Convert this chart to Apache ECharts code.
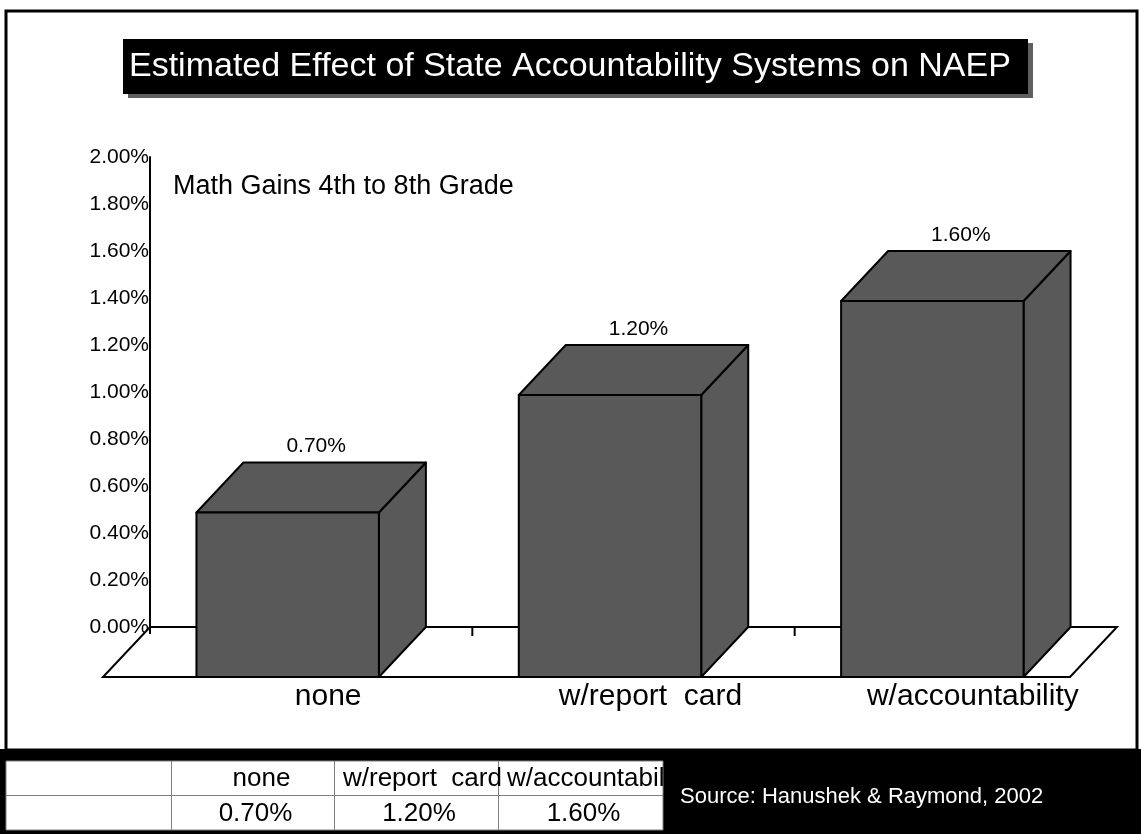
<!DOCTYPE html>
<html>
<head>
<meta charset="utf-8">
<script src="https://cdn.jsdelivr.net/npm/echarts@6/dist/echarts.min.js"></script>
<style>
  html, body { margin: 0; padding: 0; background: #fff; }
  #chart { width: 1141px; height: 834px; }
</style>
</head>
<body>
<div id="chart"></div>
<script>
// ---- data ----
const categories = ['none', 'w/report  card', 'w/accountability'];
const values = [0.70, 1.20, 1.60];           // percent
const yMin = 0, yMax = 2, yStep = 0.2;        // percent axis
const titleText = 'Estimated Effect of State Accountability Systems on NAEP';
const subtitleText = 'Math Gains 4th to 8th Grade';
const sourceText = 'Source: Hanushek & Raymond, 2002';

const fmt = v => v.toFixed(2) + '%';
const FONT = '"Liberation Sans", Arial, sans-serif';
const DX = 47, DY = 50;   // 3D depth offset (px)
const BAR_FILL = '#595959';

const chart = echarts.init(document.getElementById('chart'), null, { renderer: 'canvas' });

// table geometry
const tblX = [6, 171, 334, 498, 663];
const tblY = [761, 795, 830];
const tableGraphics = [];
tableGraphics.push({ type: 'rect', shape: { x: 0, y: 749, width: 1141, height: 85 }, style: { fill: '#000' }, z: 1 });
tableGraphics.push({ type: 'rect', shape: { x: tblX[0], y: tblY[0], width: tblX[4] - tblX[0], height: tblY[2] - tblY[0] }, style: { fill: '#fff', stroke: '#808080', lineWidth: 1 }, z: 2 });
for (let k = 1; k < 4; k++) {
  tableGraphics.push({ type: 'line', shape: { x1: tblX[k] + 0.5, y1: tblY[0], x2: tblX[k] + 0.5, y2: tblY[2] }, style: { stroke: '#808080', lineWidth: 1 }, z: 3 });
}
tableGraphics.push({ type: 'line', shape: { x1: tblX[0], y1: tblY[1] + 0.5, x2: tblX[4], y2: tblY[1] + 0.5 }, style: { stroke: '#808080', lineWidth: 1 }, z: 3 });
categories.forEach((c, i) => {
  const x0 = tblX[i + 1], x1 = tblX[i + 2];
  const fits = c.length <= 6;
  tableGraphics.push({ type: 'text', z: 4, style: {
    text: c, x: fits ? (x0 + x1) / 2 + 9 : x0 + 9, y: (tblY[0] + tblY[1]) / 2 + 1,
    textAlign: fits ? 'center' : 'left', textVerticalAlign: 'middle',
    font: '26px ' + FONT, fill: '#000' } });
  tableGraphics.push({ type: 'text', z: 4, style: {
    text: fmt(values[i]), x: (x0 + x1) / 2 + 3, y: (tblY[1] + tblY[2]) / 2 + 1,
    textAlign: 'center', textVerticalAlign: 'middle',
    font: '26px ' + FONT, fill: '#000' } });
});
// black area right of table (also hides overflowing header text)
tableGraphics.push({ type: 'rect', shape: { x: tblX[4] + 1, y: 749, width: 1141 - tblX[4], height: 85 }, style: { fill: '#000' }, z: 5 });
tableGraphics.push({ type: 'text', z: 6, style: {
  text: sourceText, x: 680, y: 797, textAlign: 'left', textVerticalAlign: 'middle',
  font: '22px ' + FONT, fill: '#fff' } });

const option = {
  backgroundColor: '#fff',
  animation: false,
  grid: { left: 150, right: 24, top: 157, bottom: 207, containLabel: false },
  xAxis: {
    type: 'category',
    data: categories,
    axisLine: { show: false },
    axisTick: { show: false },
    splitLine: { show: false },
    axisLabel: { color: '#000', fontSize: 30, fontFamily: FONT, margin: 55, padding: [0, 0, 0, 34] }
  },
  yAxis: {
    type: 'value',
    min: yMin, max: yMax, interval: yStep,
    axisLine: { show: true, lineStyle: { color: '#000', width: 2 } },
    axisTick: { show: false },
    splitLine: { show: false },
    axisLabel: { color: '#000', fontSize: 21, fontFamily: FONT, margin: 1, formatter: v => fmt(v) }
  },
  graphic: [
    // outer frame
    { type: 'rect', shape: { x: 6, y: 11, width: 1131, height: 739 }, style: { fill: 'none', stroke: '#000', lineWidth: 3 }, z: 10 },
    // title shadow + box
    { type: 'rect', shape: { x: 128, y: 43, width: 905, height: 55 }, style: { fill: '#5f5f5f' }, z: 10 },
    { type: 'rect', shape: { x: 123, y: 39, width: 905, height: 55 }, style: { fill: '#000' }, z: 11 },
    { type: 'text', z: 12, style: { text: titleText, x: 129, y: 67, textAlign: 'left', textVerticalAlign: 'middle', font: '34px ' + FONT, fill: '#fff' } },
    { type: 'text', z: 12, style: { text: subtitleText, x: 173, y: 187, textAlign: 'left', textVerticalAlign: 'middle', font: '27px ' + FONT, fill: '#000' } },
    ...tableGraphics
  ],
  series: [
    {
      // floor of the 3D plot
      type: 'custom',
      z: 1,
      silent: true,
      data: [[0, 0]],
      encode: { x: 0, y: 1 },
      renderItem: function (params, api) {
        const cs = params.coordSys;
        const y0 = api.coord([0, 0])[1];
        const xL = cs.x, xR = cs.x + cs.width;
        const bw = api.size([1, 0])[0];
        const children = [
          { type: 'polygon', shape: { points: [[xL, y0], [xR, y0], [xR - DX, y0 + DY], [xL - DX, y0 + DY]] },
            style: { fill: '#fff', stroke: '#000', lineWidth: 2 } },
          { type: 'line', shape: { x1: xL, y1: y0, x2: xL, y2: y0 + 7 }, style: { stroke: '#000', lineWidth: 2 } }
        ];
        for (let k = 1; k < categories.length; k++) {
          const x = xL + k * bw;
          children.push({ type: 'line', shape: { x1: x, y1: y0, x2: x, y2: y0 + 9 }, style: { stroke: '#000', lineWidth: 2 } });
        }
        return { type: 'group', children };
      }
    },
    {
      type: 'custom',
      z: 2,
      data: values.map((v, i) => [i, v]),
      encode: { x: 0, y: 1 },
      renderItem: function (params, api) {
        const i = api.value(0), v = api.value(1);
        const p0 = api.coord([i, 0]);
        const p1 = api.coord([i, v]);
        const bw = api.size([1, 0])[0];
        const cx = p0[0];
        const half = bw * 0.283;
        const fxL = cx - DX / 2 - half, fxR = cx - DX / 2 + half;
        const fTop = p1[1] + DY, fBot = p0[1] + DY;
        const st = { fill: BAR_FILL, stroke: '#000', lineWidth: 2, lineJoin: 'round' };
        return {
          type: 'group',
          children: [
            { type: 'polygon', shape: { points: [[fxR, fTop], [fxR + DX, fTop - DY], [fxR + DX, fBot - DY], [fxR, fBot]] }, style: st },
            { type: 'polygon', shape: { points: [[fxL, fTop], [fxR, fTop], [fxR + DX, fTop - DY], [fxL + DX, fTop - DY]] }, style: st },
            { type: 'rect', shape: { x: fxL, y: fTop, width: fxR - fxL, height: fBot - fTop }, style: st },
            { type: 'text', style: { text: fmt(v), x: cx + 5, y: p1[1] - 16, textAlign: 'center', textVerticalAlign: 'middle', font: '21px ' + FONT, fill: '#000' } }
          ]
        };
      }
    }
  ]
};
chart.setOption(option);
</script>
</body>
</html>
